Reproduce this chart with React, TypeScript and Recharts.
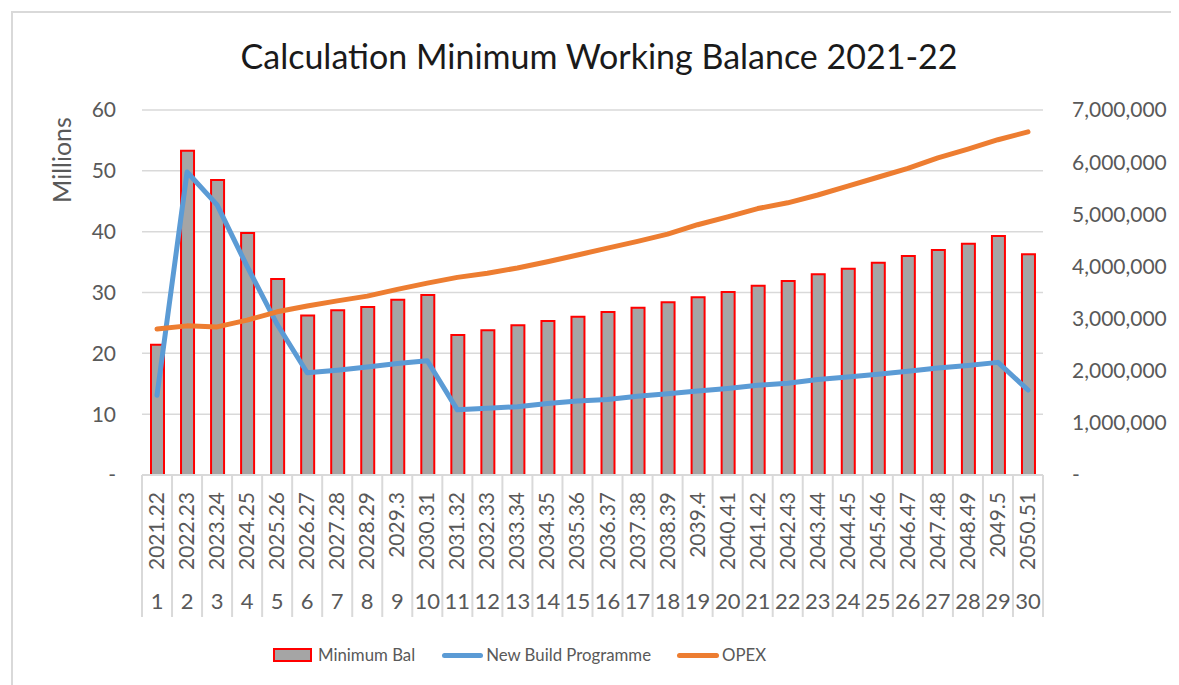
import { Bar, CartesianGrid, ComposedChart, Legend, Line, XAxis, YAxis } from 'recharts';

const years = [
  '2021.22', '2022.23', '2023.24', '2024.25', '2025.26', '2026.27', '2027.28', '2028.29', '2029.3', '2030.31',
  '2031.32', '2032.33', '2033.34', '2034.35', '2035.36', '2036.37', '2037.38', '2038.39', '2039.4', '2040.41',
  '2041.42', '2042.43', '2043.44', '2044.45', '2045.46', '2046.47', '2047.48', '2048.49', '2049.5', '2050.51',
];
const periods = [
  '1', '2', '3', '4', '5', '6', '7', '8', '9', '10', '11', '12', '13', '14', '15',
  '16', '17', '18', '19', '20', '21', '22', '23', '24', '25', '26', '27', '28', '29', '30',
];
// left axis, in millions
const minimumBal = [
  21.4, 53.3, 48.5, 39.8, 32.2, 26.2, 27.1, 27.6, 28.8, 29.6,
  23.0, 23.8, 24.6, 25.3, 26.0, 26.8, 27.5, 28.4, 29.2, 30.1,
  31.1, 31.9, 33.0, 33.9, 34.9, 36.0, 37.0, 38.0, 39.3, 36.3,
];
// right axis
const newBuild = [
  1530000, 5810000, 5180000, 4000000, 2890000, 1960000, 2010000, 2070000, 2140000, 2190000,
  1250000, 1280000, 1310000, 1370000, 1420000, 1450000, 1510000, 1560000, 1610000, 1660000,
  1720000, 1760000, 1830000, 1880000, 1930000, 1990000, 2050000, 2100000, 2160000, 1630000,
];
const opex = [
  2800000, 2860000, 2840000, 2970000, 3130000, 3240000, 3340000, 3430000, 3560000, 3680000,
  3790000, 3870000, 3970000, 4090000, 4220000, 4350000, 4480000, 4620000, 4800000, 4950000,
  5110000, 5220000, 5370000, 5540000, 5710000, 5880000, 6080000, 6250000, 6430000, 6580000,
];
const leftTicks = [0, 10, 20, 30, 40, 50, 60];
const rightTicks = [0, 1000000, 2000000, 3000000, 4000000, 5000000, 6000000, 7000000];

const data = years.map((year, i) => ({
  year,
  num: periods[i],
  minBal: minimumBal[i],
  newBuild: newBuild[i],
  opex: opex[i],
}));

const W = 1166;
const H = 672;
const LEFT_W = 129;
const RIGHT_W = 136;
const AXIS_H1 = 100;
const AXIS_H2 = 42;
const BAND = (W - LEFT_W - RIGHT_W) / years.length;
const FONT = 'Lato, "Liberation Sans", sans-serif';
const GREY = '#595959';
const LINE_GREY = '#d9d9d9';

function YearTick(props: any) {
  const { x, y, payload, index } = props;
  const h = AXIS_H1 + AXIS_H2;
  return (
    <g>
      <line x1={x - BAND / 2} x2={x - BAND / 2} y1={y} y2={y + h} stroke={LINE_GREY} strokeWidth={2} />
      {index === years.length - 1 && (
        <line x1={x + BAND / 2} x2={x + BAND / 2} y1={y} y2={y + h} stroke={LINE_GREY} strokeWidth={2} />
      )}
      <text
        transform={`translate(${x + 7},${y + 17}) rotate(-90)`}
        textAnchor="end"
        fontSize={21}
        fontFamily={FONT}
        fill={GREY}
      >
        {payload.value}
      </text>
    </g>
  );
}

function NumTick(props: any) {
  const { x, y, payload } = props;
  return (
    <text x={x} y={y + 34} textAnchor="middle" fontSize={22} fontFamily={FONT} fill={GREY}>
      {payload.value}
    </text>
  );
}

function LegendContent() {
  const text = { fontSize: 16.8, color: GREY, fontFamily: FONT, lineHeight: '30px', whiteSpace: 'nowrap' as const, flexShrink: 0 };
  return (
    <div style={{ display: 'flex', alignItems: 'center', height: 30, whiteSpace: 'nowrap' }}>
      <div style={{ width: 35, height: 10, background: '#a5a5a5', border: '2px solid #ff0000', flexShrink: 0 }} />
      <span style={{ ...text, marginLeft: 6, marginRight: 27 }}>Minimum Bal</span>
      <div style={{ width: 41, height: 5, borderRadius: 3, background: '#5b9bd5', flexShrink: 0 }} />
      <span style={{ ...text, marginLeft: 3, marginRight: 26 }}>New Build Programme</span>
      <div style={{ width: 42, height: 5, borderRadius: 3, background: '#ed7d31', flexShrink: 0 }} />
      <span style={{ ...text, marginLeft: 3 }}>OPEX</span>
    </div>
  );
}

const fmtLeft = (v: number) => (v === 0 ? '-' : String(v));
const fmtRight = (v: number) => (v === 0 ? '-' : v.toLocaleString('en-US'));

export default function App() {
  return (
    <div
      style={{
        position: 'relative',
        marginTop: 3,
        marginLeft: 3,
        borderTop: `2px solid ${LINE_GREY}`,
        borderLeft: `2px solid ${LINE_GREY}`,
        width: W,
        height: H,
        background: '#fff',
      }}
    >
      <div
        style={{
          position: 'absolute',
          left: 586,
          top: 26,
          transform: 'translateX(-50%)',
          whiteSpace: 'nowrap',
          fontFamily: FONT,
          fontSize: 34,
          lineHeight: 1,
          color: '#1a1a1a',
          zIndex: 1,
        }}
      >
        Calculation Minimum Working Balance 2021-22
      </div>
      <ComposedChart width={W} height={H} data={data} margin={{ top: 97, right: 0, bottom: 38, left: 0 }}>
        <CartesianGrid vertical={false} yAxisId="left" xAxisId="a1" stroke={LINE_GREY} strokeWidth={1.5} />
        <XAxis
          xAxisId="a1"
          dataKey="year"
          height={AXIS_H1}
          interval={0}
          tickSize={0}
          tickMargin={0}
          tickLine={false}
          axisLine={{ stroke: LINE_GREY, strokeWidth: 2 }}
          tick={<YearTick />}
        />
        <XAxis
          xAxisId="b2"
          dataKey="num"
          height={AXIS_H2}
          interval={0}
          tickSize={0}
          tickMargin={0}
          tickLine={false}
          axisLine={false}
          tick={<NumTick />}
        />
        <YAxis
          yAxisId="left"
          width={LEFT_W}
          domain={[0, 60]}
          ticks={leftTicks}
          interval={0}
          axisLine={false}
          tickLine={false}
          tickSize={0}
          tickMargin={26}
          tickFormatter={fmtLeft}
          tick={{ fill: GREY, fontSize: 21, fontFamily: FONT }}
          label={{
            content: ({ viewBox }: any) => (
              <text
                transform={`translate(${viewBox.x + 58},${viewBox.y + 50}) rotate(-90)`}
                textAnchor="middle"
                fontSize={25}
                fontFamily={FONT}
                fill={GREY}
              >
                Millions
              </text>
            ),
          }}
        />
        <YAxis
          yAxisId="right"
          orientation="right"
          width={RIGHT_W}
          domain={[0, 7000000]}
          ticks={rightTicks}
          interval={0}
          axisLine={false}
          tickLine={false}
          tickSize={0}
          tickMargin={29}
          tickFormatter={fmtRight}
          tick={{ fill: GREY, fontSize: 21, fontFamily: FONT, textAnchor: 'start' }}
        />
        <Legend
          verticalAlign="bottom"
          content={<LegendContent />}
          wrapperStyle={{ top: 627, left: 260, width: 640, height: 30 }}
        />
        <Bar
          xAxisId="a1"
          yAxisId="left"
          dataKey="minBal"
          name="Minimum Bal"
          barSize={13}
          fill="#a5a5a5"
          stroke="#ff0000"
          strokeWidth={2}
          isAnimationActive={false}
        />
        <Line
          xAxisId="a1"
          yAxisId="right"
          type="linear"
          dataKey="newBuild"
          name="New Build Programme"
          stroke="#5b9bd5"
          strokeWidth={5}
          strokeLinecap="round"
          strokeLinejoin="round"
          dot={false}
          activeDot={false}
          isAnimationActive={false}
        />
        <Line
          xAxisId="a1"
          yAxisId="right"
          type="linear"
          dataKey="opex"
          name="OPEX"
          stroke="#ed7d31"
          strokeWidth={5}
          strokeLinecap="round"
          strokeLinejoin="round"
          dot={false}
          activeDot={false}
          isAnimationActive={false}
        />
      </ComposedChart>
    </div>
  );
}
